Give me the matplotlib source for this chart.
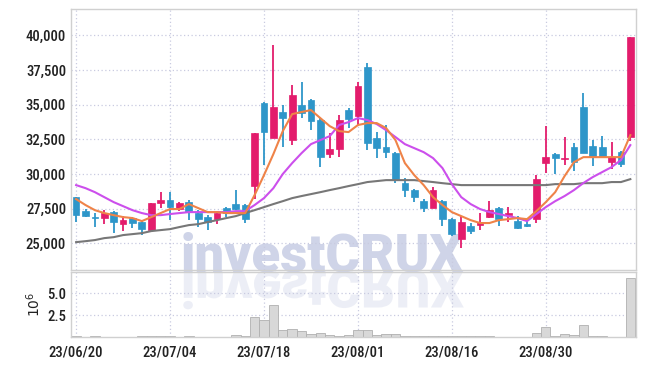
import numpy as np
import matplotlib.pyplot as plt
from matplotlib import patheffects
from matplotlib.transforms import Affine2D

plt.rcParams['font.family'] = ['Roboto Condensed', 'Roboto', 'DejaVu Sans']

# daily prices (60 sessions)
opens = [28320, 27310, 26850, 26800, 27240, 26370, 26800, 26520, 25940, 27890,
         28110, 27460, 27960, 27170, 26880, 26730, 27530, 27820, 27750, 29120,
         35120, 32590, 34460, 32440, 34970, 35330, 33890, 31430, 31790, 34610,
         34180, 37720, 32590, 31940, 31500, 29340, 28830, 28030, 27530, 28030,
         26730, 25290, 26230, 26300, 26880, 27530, 27020, 26590, 26370, 26730,
         30780, 31430, 31070, 31940, 34830, 32010, 31940, 30850, 31570, 32660]
highs = [28350, 27450, 27170, 27380, 27310, 26950, 26880, 26590, 27890, 28680,
         28680, 27960, 28110, 27380, 27020, 27240, 27600, 28830, 27800, 32950,
         35190, 39300, 34970, 36420, 36630, 35400, 34030, 32950, 34250, 34750,
         36630, 38000, 33020, 33520, 31570, 29700, 28900, 28180, 29050, 28100,
         26800, 26950, 26450, 27170, 28030, 27600, 27600, 26950, 26660, 29910,
         33450, 31500, 32660, 32220, 35840, 32440, 32730, 32300, 31640, 39880]
lows = [26520, 26880, 26160, 26370, 25720, 25870, 26080, 25580, 25870, 27530,
        26660, 27310, 26660, 26160, 25940, 26370, 26880, 27380, 26450, 28180,
        30640, 32590, 31940, 32080, 34030, 33160, 30490, 31140, 31210, 33310,
        33520, 31720, 31140, 31140, 29340, 28320, 27960, 27240, 27530, 26230,
        25500, 24640, 25650, 25940, 26800, 26230, 26520, 26010, 26160, 26450,
        30060, 29990, 30640, 30200, 31500, 30560, 31140, 30350, 30490, 32370]
closes = [27020, 26950, 26800, 27170, 26520, 26660, 26450, 26010, 27890, 28110,
          27600, 27890, 27240, 26730, 26520, 27170, 27170, 27460, 26730, 32950,
          33020, 34830, 34030, 35690, 34390, 33810, 31210, 31790, 33890, 33960,
          36340, 32220, 31860, 31570, 29620, 28830, 28320, 27530, 28830, 26730,
          25650, 26520, 25870, 26520, 27380, 26730, 27170, 26080, 26230, 29620,
          31210, 31140, 31140, 30850, 31500, 31210, 31210, 31210, 30710, 39880]

# moving averages
ma_short = [28180, 27750, 27380, 27170, 27020, 26880, 26810, 26590, 26880, 27170,
            27460, 27460, 27820, 27530, 27240, 27240, 27170, 27170, 27170, 28470,
            29910, 31430, 33090, 34320, 34470, 34610, 34030, 33450, 33090, 33020,
            33530, 33670, 33670, 33310, 32440, 30780, 29910, 29190, 28320, 27750,
            27240, 26950, 26660, 26450, 26450, 26660, 26730, 26810, 26730, 27310,
            27960, 28680, 29840, 30850, 31210, 31210, 31210, 31210, 31210, 32800]
ma_mid = [29190, 28970, 28680, 28320, 27960, 27670, 27380, 27170, 27020, 27020,
          27100, 27170, 27240, 27240, 27240, 27240, 27240, 27310, 27310, 27750,
          28250, 28970, 29990, 30780, 31500, 32150, 32440, 32730, 33530, 33740,
          34030, 33890, 33600, 33160, 32660, 32150, 31860, 31570, 31140, 30420,
          29260, 28320, 27820, 27460, 27240, 27100, 26950, 26810, 26590, 27100,
          27600, 28030, 28400, 28830, 29340, 29770, 30130, 30490, 31000, 32080]
ma_long = [25070, 25140, 25220, 25360, 25430, 25580, 25650, 25720, 25870, 25940,
           26010, 26160, 26300, 26370, 26520, 26660, 26810, 26950, 27170, 27380,
           27600, 27820, 28030, 28250, 28400, 28540, 28680, 28830, 28970, 29120,
           29260, 29410, 29480, 29550, 29550, 29550, 29550, 29480, 29410, 29330,
           29260, 29190, 29190, 29190, 29190, 29190, 29190, 29190, 29190, 29190,
           29190, 29260, 29260, 29260, 29330, 29330, 29330, 29410, 29410, 29620]

# volume in millions
volume = [0.10, 0.02, 0.10, 0.05, 0.05, 0.03, 0.02, 0.10, 0.12, 0.10,
          0.12, 0.05, 0.10, 0.03, 0.03, 0.03, 0.05, 0.20, 0.10, 2.30,
          1.95, 3.60, 0.80, 0.90, 0.70, 0.35, 0.45, 0.20, 0.15, 0.20,
          0.75, 0.85, 0.25, 0.35, 0.35, 0.10, 0.08, 0.08, 0.15, 0.15,
          0.08, 0.15, 0.08, 0.08, 0.10, 0.06, 0.05, 0.05, 0.05, 0.50,
          1.10, 0.15, 0.30, 0.20, 1.35, 0.15, 0.15, 0.05, 0.05, 6.70]

tick_pos = [0, 10, 20, 30, 40, 50]
tick_labels = ['23/06/20', '23/07/04', '23/07/18', '23/08/01', '23/08/16', '23/08/30']
price_ticks = [25000, 27500, 30000, 32500, 35000, 37500, 40000]

UP = '#e31c6c'
DOWN = '#2e96c9'
GRID = '#c9cbe0'
SPINE = '#d0d0d0'

fig = plt.figure(figsize=(6.45, 3.66), dpi=100)
ax = fig.add_axes([0.110, 0.262, 0.876, 0.713])
axv = fig.add_axes([0.110, 0.079, 0.876, 0.178], sharex=ax)
for a in (ax, axv):
    a.set_facecolor('none')
    for s in a.spines.values():
        s.set_color(SPINE)
        s.set_linewidth(1.0)
    a.tick_params(length=0, labelsize=10.5, colors='#222222')
    a.grid(True, color=GRID, linestyle=(0, (1, 2)), linewidth=0.9)
    a.set_axisbelow(True)

x = np.arange(len(closes))
o = np.array(opens)
c = np.array(closes)
colors = [UP if cc >= oo else DOWN for oo, cc in zip(o, c)]
bottoms = np.minimum(o, c)
heights = np.maximum(np.abs(c - o), 70)

ax.vlines(x, lows, highs, colors=colors, linewidth=1.3, zorder=2)
ax.bar(x, heights, bottom=bottoms, width=0.72, color=colors,
       edgecolor=colors, linewidth=0.5, zorder=3)

ax.plot(x, ma_long, color='#777777', linewidth=1.5, zorder=4)
ax.plot(x, ma_mid, color='#cc4fec', linewidth=1.5, zorder=4)
ax.plot(x, ma_short, color='#ef8348', linewidth=1.5, zorder=4)

ax.set_ylim(23050, 41900)
ax.set_yticks(price_ticks)
ax.set_yticklabels([f'{v:,}' for v in price_ticks], fontweight='medium')
ax.set_xlim(-0.55, 59.6)
ax.tick_params(axis='x', labelbottom=False)

axv.bar(x, volume, width=1.0, color='#d8d8d8', edgecolor='#b0b0b0',
        linewidth=0.6, zorder=2)
axv.set_ylim(0, 7.4)
axv.set_yticks([2.5, 5.0])
axv.set_yticklabels(['2.5', '5.0'], fontweight='medium')
axv.set_ylabel('$10^6$', fontsize=10, color='#222222', labelpad=3)
axv.set_xticks(tick_pos)
axv.set_xticklabels(tick_labels, fontweight='medium')
axv.tick_params(axis='x', pad=6)


class Mirror(patheffects.AbstractPathEffect):
    def __init__(self, y0):
        super().__init__()
        self.y0 = y0

    def draw_path(self, renderer, gc, tpath, affine, rgbFace=None):
        flip = Affine2D().translate(0, -self.y0).scale(1, -1).translate(0, self.y0)
        renderer.draw_path(gc, tpath, affine + flip, rgbFace)


# watermark with reflection
base_y = 1 - 272 / 366
wm = dict(ha='center', va='baseline', fontsize=38, fontweight='black',
          family=['Roboto', 'DejaVu Sans'], color='#cfd4e8', zorder=-2)
fig.text(0.5, base_y, 'investCRUX', **wm)
fig.text(0.5, base_y, 'investCRUX', alpha=0.38,
         path_effects=[Mirror(366 - 272 + 1)], **wm)

fig.savefig('out.png', dpi=100, facecolor='white')
